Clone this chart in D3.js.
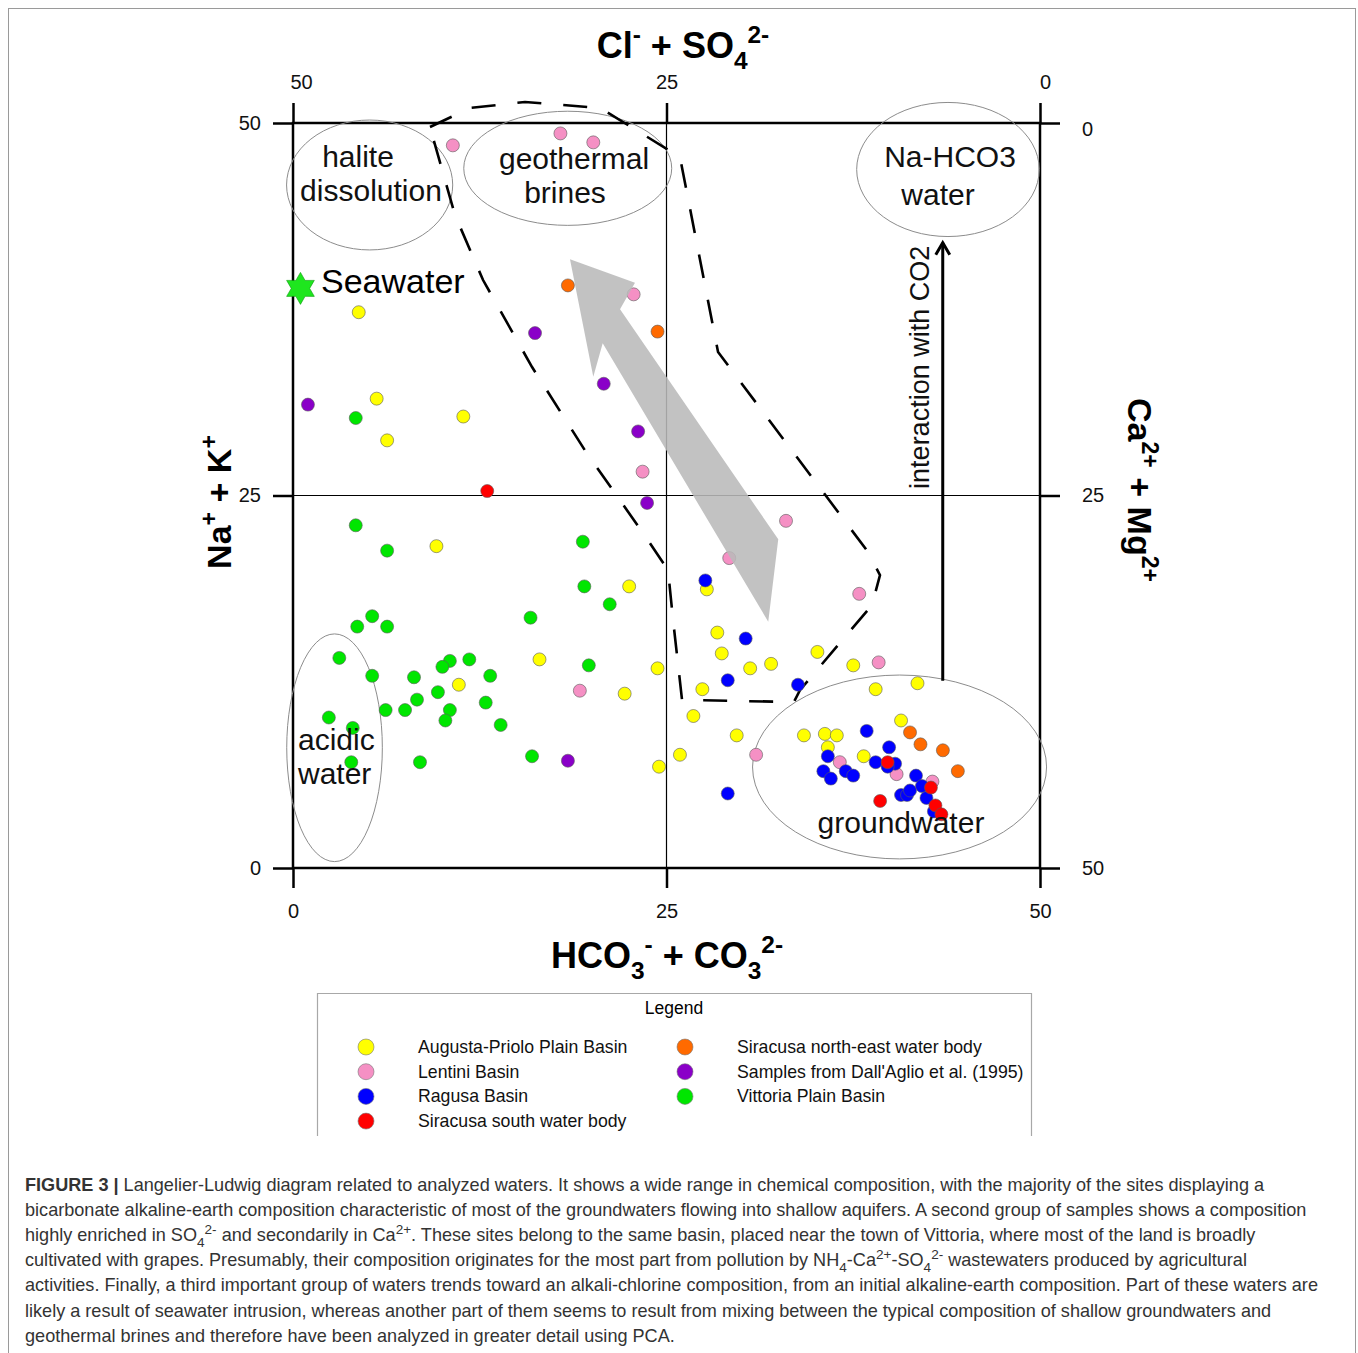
<!DOCTYPE html>
<html>
<head>
<meta charset="utf-8">
<script src="https://cdn.jsdelivr.net/npm/d3@7"></script>
<style>
body { margin: 0; background: #fff; }
text { font-family: Arial, "Liberation Sans", sans-serif; }
</style>
</head>
<body>
<div id="chart"></div>
<script>
// samples, [HCO3+CO3, Na+K] in meq %
var augusta = [[4.4,37.3],[5.6,31.5],[6.3,28.7],[11.4,30.3],[9.6,21.6],[22.5,18.9],[16.5,14.0],[11.1,12.3],
    [24.4,13.4],[22.2,11.7],[24.5,6.8],[25.9,7.6],[27.7,18.7],[28.4,15.8],[28.7,14.4],[30.6,13.4],[32.0,13.7],
    [35.1,14.5],[37.5,13.6],[39.0,12.0],[41.8,12.4],[27.4,12.0],[26.8,10.2],[29.7,8.9],[34.2,8.9],[35.6,9.0],
    [36.4,8.9],[35.8,8.1],[38.2,7.5],[40.7,9.9]];
var lentini = [[10.7,48.5],[17.9,49.3],[20.1,48.7],[22.8,38.5],[23.4,26.6],[33.0,23.3],[29.2,20.8],[37.9,18.4],
    [39.2,13.8],[19.2,11.9],[31.0,7.6],[36.6,7.1],[40.4,6.3],[42.8,5.8]];
var ragusa = [[27.6,19.3],[30.3,15.4],[29.1,12.6],[33.8,12.3],[29.1,5.0],[35.8,7.5],[35.5,6.5],[36.0,6.0],
    [37.0,6.5],[37.5,6.2],[38.4,9.2],[39.0,7.1],[39.9,8.1],[40.3,7.0],[39.8,6.8],[41.7,6.2],[40.7,4.9],
    [41.1,4.9],[41.3,5.2],[42.1,5.5],[42.4,4.7],[42.9,3.8]];
var siracusaSouth = [[13.0,25.3],[39.8,7.1],[39.3,4.5],[42.7,5.4],[43.0,4.2],[43.4,3.6]];
var siracusaNE = [[18.4,39.1],[24.4,36.0],[41.3,9.1],[42.0,8.3],[43.5,7.9],[44.5,6.5]];
var dallAglio = [[1.0,31.1],[16.2,35.9],[20.8,32.5],[23.1,29.3],[23.7,24.5],[18.4,7.2]];
var vittoria = [[4.2,30.2],[4.2,23.0],[6.3,21.3],[19.4,21.9],[19.5,18.9],[21.2,17.7],[15.9,16.8],[5.3,16.9],
    [4.3,16.2],[6.3,16.2],[3.1,14.1],[5.3,12.9],[8.1,12.8],[10.5,13.9],[10.0,13.5],[11.8,14.0],[13.2,12.9],
    [19.8,13.6],[9.7,11.8],[8.3,11.3],[6.2,10.6],[7.5,10.6],[10.5,10.6],[10.2,9.9],[12.9,11.1],[13.9,9.6],
    [2.4,10.1],[4.0,9.4],[3.9,7.1],[8.5,7.1],[16.0,7.5]];
var seawater = [0.5, 38.9];

var seriesNames = ["Augusta-Priolo Plain Basin", "Lentini Basin", "Ragusa Basin", "Siracusa south water body",
    "Siracusa north-east water body", "Samples from Dall'Aglio et al. (1995)", "Vittoria Plain Basin"];
var seriesData = [augusta, lentini, ragusa, siracusaSouth, siracusaNE, dallAglio, vittoria];
var seriesColors = ["#ffff00", "#f590c4", "#0000ff", "#ff0000", "#ff6a00", "#8a00c8", "#00e600"];

var axisTicks = [0, 25, 50];

// annotation shapes, same units
var fieldNames = [["halite", "dissolution"], ["geothermal", "brines"], ["Na-HCO3", "water"], ["acidic", "water"], ["groundwater"]];
var fieldEllipses = [[5.13,45.84,5.56,4.36],[18.39,46.96,6.96,3.83],[43.84,46.88,6.11,4.5],[2.78,8.07,3.2,7.64],[40.6,6.78,9.84,6.17]];
var trendOutline = [[9.17,49.73],[11.85,51.01],[15.53,51.41],[20.55,51.01],[25.9,47.72],[28.45,34.63],[38.49,21.21],
    [39.29,19.66],[38.76,17.65],[33.94,11.95],[33.53,11.14],[26.04,11.28],[25.44,16.64],[25.1,20.0],[23.43,22.48],
    [19.61,27.92],[16.0,33.62],[12.72,39.46],[10.84,43.83],[9.17,49.73]];
var mixingArrow = [[18.54,40.85],[22.89,39.28],[21.89,37.5],[32.48,22.06],[31.81,16.53],[20.73,35.21],[20.1,32.97]];
var co2Arrow = [[43.49,12.57],[43.49,41.97]];

var captionLines = [
    [["FIGURE 3 |", "b"], [" Langelier-Ludwig diagram related to analyzed waters. It shows a wide range in chemical composition, with the majority of the sites displaying a"]],
    [["bicarbonate alkaline-earth composition characteristic of most of the groundwaters flowing into shallow aquifers. A second group of samples shows a composition"]],
    [["highly enriched in SO"], ["4", "sub"], ["2-", "sup"], [" and secondarily in Ca"], ["2+", "sup"], [". These sites belong to the same basin, placed near the town of Vittoria, where most of the land is broadly"]],
    [["cultivated with grapes. Presumably, their composition originates for the most part from pollution by NH"], ["4", "sub"], ["-Ca"], ["2+", "sup"], ["-SO"], ["4", "sub"], ["2-", "sup"], [" wastewaters produced by agricultural"]],
    [["activities. Finally, a third important group of waters trends toward an alkali-chlorine composition, from an initial alkaline-earth composition. Part of these waters are"]],
    [["likely a result of seawater intrusion, whereas another part of them seems to result from mixing between the typical composition of shallow groundwaters and"]],
    [["geothermal brines and therefore have been analyzed in greater detail using PCA."]]
];

var width = 1358, height = 1353;

var svg = d3.select("#chart")
    .append("svg")
        .attr("width", width)
        .attr("height", height)
        .style("display", "block");

// outer figure frame
svg.append("rect")
    .attr("x", 8.5).attr("y", 8.5)
    .attr("width", 1347).attr("height", 1360)
    .style("fill", "none")
    .style("stroke", "#9a9a9a")
    .style("stroke-width", 1);

var x = d3.scaleLinear().domain([0, 50]).range([293, 1040]);
var y = d3.scaleLinear().domain([0, 50]).range([868, 123]);
var xTop = d3.scaleLinear().domain([50, 0]).range([293, 1040]);
var yRight = d3.scaleLinear().domain([0, 50]).range([123, 868]);

// helper for sub / superscripts
function rich(sel, parts, size, small) {
    var shift = 0;
    parts.forEach(function(p) {
        var kind = p[1] || "";
        var target = kind == "sup" ? -0.42 * size : kind == "sub" ? 0.3 * size : 0;
        var t = sel.append("tspan").text(p[0]).attr("dy", target - shift);
        if (kind == "sup" || kind == "sub") t.style("font-size", (size * (small || 0.68)) + "px");
        if (kind == "b") t.style("font-weight", "bold");
        shift = target;
    });
}

// Axes
function styleAxis(g) {
    g.select(".domain").remove();
    g.selectAll(".tick line").style("stroke", "#000").style("stroke-width", 2.5);
    g.selectAll(".tick text").style("font-size", "20px").style("fill", "#111")
        .style("font-family", "Arial, 'Liberation Sans', sans-serif");
}
svg.append("g").attr("transform", "translate(0,123)")
    .call(d3.axisTop(xTop).tickValues(axisTicks).tickSize(20).tickPadding(14)).call(styleAxis)
    .selectAll(".tick text").attr("dx", function(d) { return d == 50 ? 8 : d == 0 ? 5 : 0; });
svg.append("g").attr("transform", "translate(0,868)")
    .call(d3.axisBottom(x).tickValues(axisTicks).tickSize(20).tickPadding(16)).call(styleAxis);
svg.append("g").attr("transform", "translate(293,0)")
    .call(d3.axisLeft(y).tickValues(axisTicks).tickSize(20).tickPadding(12)).call(styleAxis);
svg.append("g").attr("transform", "translate(1040,0)")
    .call(d3.axisRight(yRight).tickValues(axisTicks).tickSize(20).tickPadding(22)).call(styleAxis)
    .selectAll(".tick text").attr("dy", function(d) { return d == 0 ? "0.62em" : "0.32em"; });

// inner cross lines
svg.append("line")
    .attr("x1", x(25)).attr("x2", x(25)).attr("y1", y(50)).attr("y2", y(0))
    .style("stroke", "#000").style("stroke-width", 1.2);
svg.append("line")
    .attr("x1", x(0)).attr("x2", x(50)).attr("y1", y(25)).attr("y2", y(25))
    .style("stroke", "#000").style("stroke-width", 1.2);

// frame
svg.append("rect")
    .attr("x", x(0)).attr("y", y(50))
    .attr("width", x(50) - x(0)).attr("height", y(0) - y(50))
    .style("fill", "none").style("stroke", "#000").style("stroke-width", 2.5);

// axis titles
var t1 = svg.append("text").attr("x", 683).attr("y", 58).attr("text-anchor", "middle")
    .style("font-size", "36px").style("font-weight", "bold");
rich(t1, [["Cl"], ["-", "sup"], [" + SO"], ["4", "sub"], ["2-", "sup"]], 36);
var t2 = svg.append("text").attr("x", 667).attr("y", 968).attr("text-anchor", "middle")
    .style("font-size", "36px").style("font-weight", "bold");
rich(t2, [["HCO"], ["3", "sub"], ["-", "sup"], [" + CO"], ["3", "sub"], ["2-", "sup"]], 36);
var t3 = svg.append("text").attr("transform", "translate(231,502) rotate(-90)").attr("text-anchor", "middle")
    .style("font-size", "34px").style("font-weight", "bold");
rich(t3, [["Na"], ["+", "sup"], [" + K"], ["+", "sup"]], 34);
var t4 = svg.append("text").attr("transform", "translate(1128,490) rotate(90)").attr("text-anchor", "middle")
    .style("font-size", "34px").style("font-weight", "bold");
rich(t4, [["Ca"], ["2+", "sup"], [" + Mg"], ["2+", "sup"]], 34);

// field ellipses
svg.append("g").selectAll("ellipse")
    .data(fieldEllipses)
    .enter()
    .append("ellipse")
        .attr("cx", function(d) { return x(d[0]); })
        .attr("cy", function(d) { return y(d[1]); })
        .attr("rx", function(d) { return x(d[2]) - x(0); })
        .attr("ry", function(d) { return y(0) - y(d[3]); })
        .style("fill", "none")
        .style("stroke", "#8c8c8c")
        .style("stroke-width", 1);

// dashed outline of mixing group
var line = d3.line()
    .x(function(d) { return x(d[0]); })
    .y(function(d) { return y(d[1]); });
svg.append("path")
    .attr("d", line(trendOutline))
    .style("fill", "none")
    .style("stroke", "#000")
    .style("stroke-width", 2.6)
    .style("stroke-dasharray", "24,22");

// Add points
seriesData.forEach(function(series, i) {
    svg.append("g")
        .selectAll("circle")
        .data(series)
        .enter()
        .append("circle")
            .attr("cx", function(d) { return x(d[0]); })
            .attr("cy", function(d) { return y(d[1]); })
            .attr("r", 6.5)
            .style("fill", seriesColors[i])
            .style("stroke", "#5a5a5a")
            .style("stroke-width", 0.6);
});

// grey trend arrow
svg.append("path")
    .attr("d", line(mixingArrow) + "Z")
    .style("fill", "#b9b9b9")
    .style("opacity", 0.88);

// CO2 arrow
svg.append("path")
    .attr("d", line(co2Arrow))
    .style("fill", "none").style("stroke", "#000").style("stroke-width", 3);
var tip = co2Arrow[1];
svg.append("path")
    .attr("d", "M" + (x(tip[0]) - 7) + "," + (y(tip[1]) + 12) + "L" + x(tip[0]) + "," + y(tip[1]) +
        "L" + (x(tip[0]) + 7) + "," + (y(tip[1]) + 12))
    .style("fill", "none").style("stroke", "#000").style("stroke-width", 3);
svg.append("text")
    .attr("transform", "translate(" + (x(tip[0]) - 14) + "," + y(33.6) + ") rotate(-90)")
    .attr("text-anchor", "middle")
    .style("font-size", "27px")
    .style("fill", "#111")
    .text("interaction with CO2");

// seawater star
var star = [];
for (var k = 0; k < 12; k++) {
    var a = Math.PI / 6 * k;
    var r = k % 2 == 0 ? 16 : 9.2;
    star.push([Math.sin(a) * r, -Math.cos(a) * r]);
}
svg.append("path")
    .attr("transform", "translate(" + x(seawater[0]) + "," + y(seawater[1]) + ")")
    .attr("d", d3.line()(star) + "Z")
    .style("fill", "#1ee61e")
    .style("stroke", "#0a9a0a")
    .style("stroke-width", 0.6);
svg.append("text")
    .attr("x", 321).attr("y", 293)
    .style("font-size", "34px")
    .text("Seawater");

// field labels
var labelPos = [[[358, 167], [371, 201]], [[574, 169], [565, 203]], [[950, 167], [938, 205]], [[298, 750], [298, 784]], [[901, 833]]];
fieldNames.forEach(function(lines, i) {
    lines.forEach(function(s, j) {
        svg.append("text")
            .attr("x", labelPos[i][j][0])
            .attr("y", labelPos[i][j][1])
            .attr("text-anchor", i == 3 ? "start" : "middle")
            .style("font-size", "30px")
            .style("fill", "#111")
            .text(s);
    });
});

// Setup legend
var legend = svg.append("g");
legend.append("path")
    .attr("d", "M317.5,1136V993.5H1031.5V1136")
    .style("fill", "none").style("stroke", "#a8a8a8").style("stroke-width", 1.2);
legend.append("text")
    .attr("x", 674).attr("y", 1014)
    .attr("text-anchor", "middle")
    .style("font-size", "17.5px")
    .text("Legend");
var legendX = [366, 685];
legend.selectAll("mydots")
    .data(seriesNames)
    .enter()
    .append("circle")
        .attr("cx", function(d, i) { return legendX[i < 4 ? 0 : 1]; })
        .attr("cy", function(d, i) { return 1047 + (i < 4 ? i : i - 4) * 24.7; })
        .attr("r", 8)
        .style("fill", function(d, i) { return seriesColors[i]; })
        .style("stroke", "#777")
        .style("stroke-width", 0.6);
legend.selectAll("mylabels")
    .data(seriesNames)
    .enter()
    .append("text")
        .attr("x", function(d, i) { return legendX[i < 4 ? 0 : 1] + 52; })
        .attr("y", function(d, i) { return 1053 + (i < 4 ? i : i - 4) * 24.7; })
        .style("font-size", "17.7px")
        .style("fill", "#111")
        .text(function(d) { return d; });

// caption
captionLines.forEach(function(parts, i) {
    var t = svg.append("text")
        .attr("x", 25)
        .attr("y", 1191 + i * 25.1)
        .style("font-size", "18.1px")
        .style("fill", "#333");
    rich(t, parts, 18.1, 0.75);
});
</script>
</body>
</html>
